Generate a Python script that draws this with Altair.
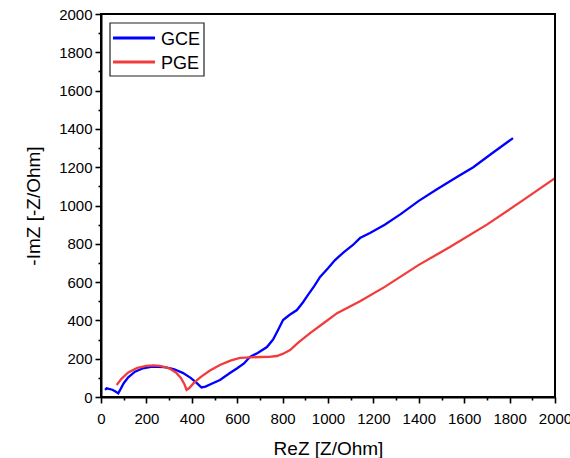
import altair as alt
import pandas as pd

gce_x = [18, 25, 35, 50, 62, 76, 88, 100, 120, 150, 185, 220, 247, 280, 320, 360, 395, 420, 435, 443, 460, 485, 524, 568, 600, 630, 656, 690, 731, 758, 780, 802, 830, 863, 890, 912, 940, 965, 1000, 1031, 1070, 1110, 1141, 1185, 1250, 1320, 1400, 1480, 1568, 1640, 1720, 1815]
gce_y = [37, 45, 42, 38, 30, 19, 45, 72, 103, 132, 150, 157, 158, 156, 146, 126, 100, 75, 58, 50, 54, 68, 89, 125, 150, 175, 209, 230, 261, 300, 350, 402, 428, 454, 495, 533, 580, 627, 672, 715, 757, 794, 830, 856, 900, 955, 1024, 1085, 1149, 1200, 1270, 1352]

pge_x = [69, 90, 120, 160, 200, 229, 260, 300, 330, 352, 368, 377, 390, 410, 440, 480, 524, 570, 612, 660, 700, 740, 775, 800, 833, 870, 921, 980, 1040, 1141, 1250, 1400, 1537, 1700, 1850, 2000]
pge_y = [63, 95, 128, 152, 163, 165, 162, 150, 128, 100, 65, 37, 48, 75, 105, 138, 167, 190, 204, 207, 209, 210, 214, 225, 245, 285, 334, 385, 438, 500, 575, 690, 783, 900, 1020, 1143]

series_names = ["GCE", "PGE"]
series_colors = ["#0000FF", "#F23C3C"]

df = pd.concat([
    pd.DataFrame({"x": gce_x, "y": gce_y, "s": "GCE", "o": range(len(gce_x))}),
    pd.DataFrame({"x": pge_x, "y": pge_y, "s": "PGE", "o": range(len(pge_x))}),
])

ticks = list(range(0, 2001, 100))
FONT = "Liberation Sans"

def mk_axis(title, title_pad, label_pad):
    return alt.Axis(
        title=title,
        values=ticks,
        labelExpr="datum.value % 200 === 0 ? datum.label : ''",
        format="d",
        grid=False,
        domainColor="black",
        domainWidth=2,
        tickColor="black",
        tickWidth=1.6,
        tickSize={"condition": {"test": "datum.value % 200 === 0", "value": 6}, "value": 3},
        labelFont=FONT,
        labelFontSize=15,
        labelColor="black",
        labelOverlap=False,
        labelFlush=False,
        labelPadding=label_pad,
        titleFont=FONT,
        titleFontSize=19,
        titleFontWeight="normal",
        titleColor="black",
        titlePadding=title_pad,
    )

lines = alt.Chart(df).mark_line(strokeWidth=2.3, clip=True).encode(
    x=alt.X("x:Q", scale=alt.Scale(domain=[0, 2000], nice=False), axis=mk_axis("ReZ [Z/Ohm]", 13, 8)),
    y=alt.Y("y:Q", scale=alt.Scale(domain=[0, 2000], nice=False), axis=mk_axis("-ImZ [-Z/Ohm]", 15, 3)),
    color=alt.Color("s:N", scale=alt.Scale(domain=series_names, range=series_colors), legend=None),
    order="o:Q",
)

# plot box frame (top and right sides; left and bottom are the axes)
frame = alt.Chart(pd.DataFrame({"a": [0]})).mark_rect(
    fill="white", fillOpacity=0, stroke="black", strokeWidth=2
).encode(x=alt.value(0), x2=alt.value(454), y=alt.value(0), y2=alt.value(383))

# legend box drawn inside the plot area
legend_box = alt.Chart(pd.DataFrame({"a": [0]})).mark_rect(
    fill="white", stroke="#222222", strokeWidth=1.2
).encode(x=alt.value(9), x2=alt.value(103), y=alt.value(9), y2=alt.value(62))

legend_layers = [legend_box]
for i, (name, col) in enumerate(zip(series_names, series_colors)):
    yy = 24 + 24 * i
    legend_layers.append(
        alt.Chart(pd.DataFrame({"s": [name]})).mark_rule(color=col, strokeWidth=2.8).encode(
            x=alt.value(12), x2=alt.value(54), y=alt.value(yy)
        )
    )
    legend_layers.append(
        alt.Chart(pd.DataFrame({"s": [name]})).mark_text(
            align="left", baseline="alphabetic", font=FONT, fontSize=18, color="black"
        ).encode(x=alt.value(60), y=alt.value(yy + 6.5), text="s:N")
    )

chart = alt.layer(lines, frame, *legend_layers).properties(
    width=454,
    height=383,
    autosize=alt.AutoSizeParams(type="none"),
    padding={"left": 101, "top": 14, "right": 15, "bottom": 61},
).configure(background="white").configure_view(strokeWidth=0, strokeOpacity=0)

chart.save("out.html", embed_options={"renderer": "svg", "actions": False})
